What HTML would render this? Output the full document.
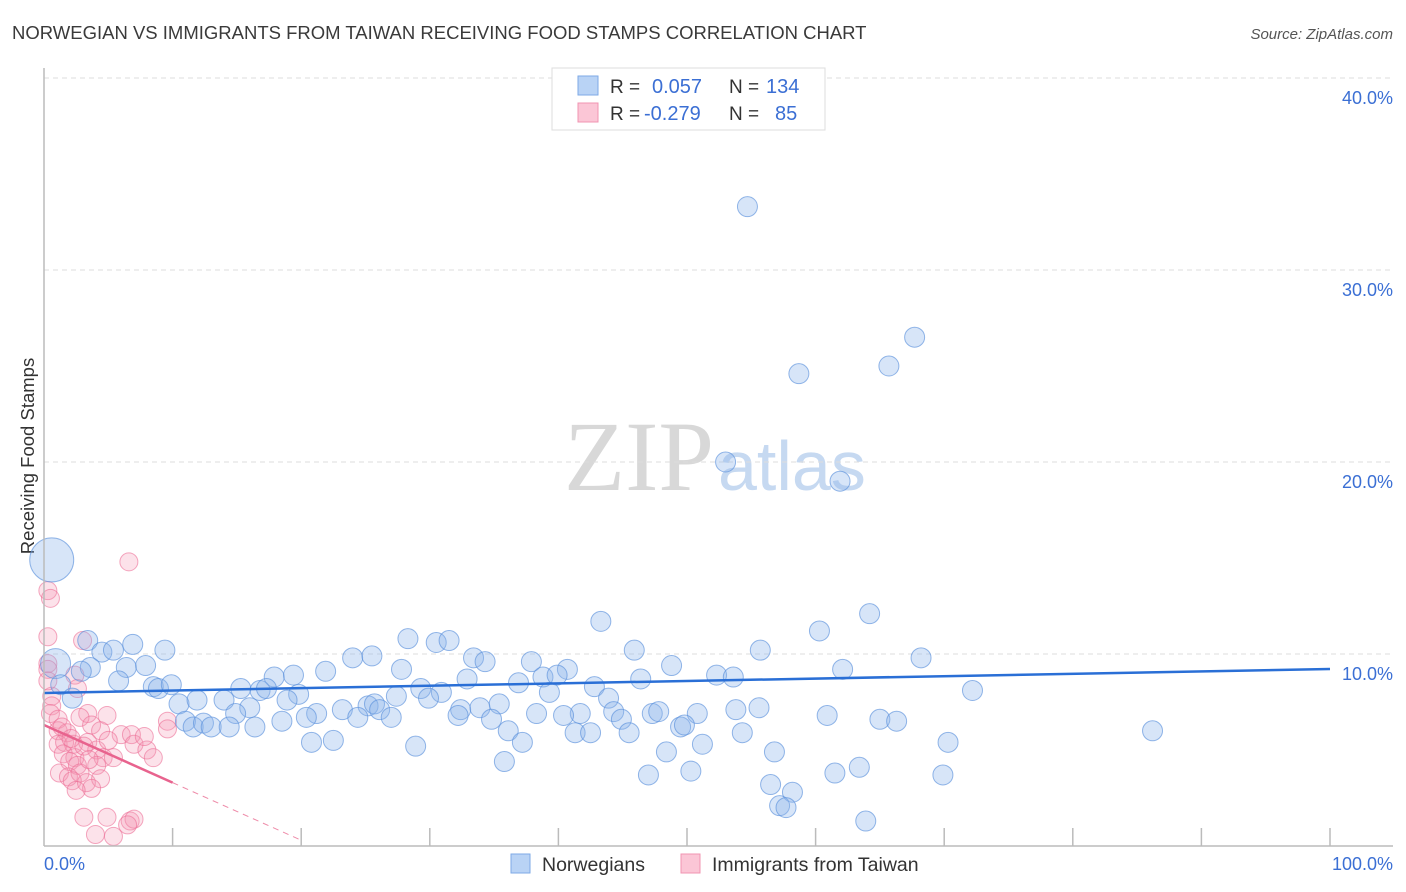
<!DOCTYPE html>
<html><head><meta charset="utf-8"><style>
body{margin:0;background:#fff;font-family:"Liberation Sans",sans-serif;}
#wrap{position:relative;width:1406px;height:892px;overflow:hidden;}
</style></head><body>
<div id="wrap">
<svg id="svg" width="1406" height="892" xmlns="http://www.w3.org/2000/svg">
<text x="12" y="39" font-size="18.5" fill="#3a3a3a">NORWEGIAN VS IMMIGRANTS FROM TAIWAN RECEIVING FOOD STAMPS CORRELATION CHART</text>
<text x="1393" y="39" font-size="15" fill="#555" font-style="italic" text-anchor="end">Source: ZipAtlas.com</text>
<text x="714" y="490" font-size="100" font-family="Liberation Serif,serif" fill="#d8d8d8" text-anchor="end">ZIP</text>
<text x="718" y="490" font-size="70" fill="#c6d9f1">atlas</text>
<text transform="translate(34,456) rotate(-90)" font-size="18.5" fill="#333" text-anchor="middle">Receiving Food Stamps</text>
<g id="grid"></g><g id="pts"></g><g id="lines"></g>
<line x1="44" y1="68" x2="44" y2="846" stroke="#bbb" stroke-width="1.5"/>
<line x1="44" y1="846" x2="1393" y2="846" stroke="#bbb" stroke-width="1.5"/>
<g id="ticks"></g>
<text x="44" y="870" font-size="18" fill="#3b6fd4">0.0%</text>
<text x="1393" y="870" font-size="18" fill="#3b6fd4" text-anchor="end">100.0%</text>
<g>
<rect x="552" y="68" width="273" height="62" fill="#fff" stroke="#ddd"/>
<rect x="578" y="76" width="20" height="19" fill="#b9d3f5" stroke="#7ea9e6"/>
<rect x="578" y="103" width="20" height="19" fill="#fbc6d6" stroke="#f094b2"/>
<text x="610" y="93" font-size="19" fill="#333">R =</text><text x="652" y="93" font-size="20" fill="#3b6fd4">0.057</text>
<text x="729" y="93" font-size="19" fill="#333">N =</text><text x="766" y="93" font-size="20" fill="#3b6fd4">134</text>
<text x="610" y="120" font-size="19" fill="#333">R =</text><text x="644" y="120" font-size="20" fill="#3b6fd4">-0.279</text>
<text x="729" y="120" font-size="19" fill="#333">N =</text><text x="775" y="120" font-size="20" fill="#3b6fd4">85</text>
</g>
<g>
<rect x="511" y="854" width="19" height="19" fill="#b9d3f5" stroke="#7ea9e6"/>
<text x="542" y="871" font-size="19.5" fill="#333">Norwegians</text>
<rect x="681" y="854" width="19" height="19" fill="#fbc6d6" stroke="#f094b2"/>
<text x="712" y="871" font-size="19.5" fill="#333">Immigrants from Taiwan</text>
</g>
</svg>
</div>
<script>
const yTicks=[10,20,30,40];
const yTickLabels=["10.0%","20.0%","30.0%","40.0%"];
const xTicks=[10,20,30,40,50,60,70,80,90,100];
const blueX=[54.7,67.7,58.7,65.7,53.0,61.9,0.6,43.3,64.2,60.3,28.3,30.5,31.5,6.9,3.4,4.5,5.4,9.4,24.0,25.5,33.4,34.3,37.9,45.9,55.7,68.2,0.9,3.6,6.4,7.9,2.9,27.8,21.9,40.7,48.8,62.1,17.9,19.4,5.8,8.5,8.9,9.9,1.3,15.3,16.8,17.3,19.8,32.9,36.9,38.8,39.9,42.8,46.4,52.3,53.6,72.2,29.3,30.9,39.3,27.4,29.9,2.2,10.5,11.9,14.0,18.9,16.0,14.9,21.2,23.2,25.2,25.7,26.1,24.4,27.0,20.4,32.4,33.9,32.2,35.4,34.8,38.3,41.7,43.9,44.3,44.9,40.4,47.3,47.8,50.8,53.8,55.6,60.9,65.0,66.3,11.0,11.6,12.4,13.0,14.4,16.4,18.5,49.5,49.8,36.1,41.3,42.5,45.5,54.3,86.2,20.8,22.5,37.2,51.2,70.3,28.9,48.4,56.8,35.8,47.0,50.3,61.5,63.4,69.9,56.5,58.2,57.2,57.7,63.9];
const blueY=[33.3,26.5,24.6,25.0,20.0,19.0,14.9,11.7,12.1,11.2,10.8,10.6,10.7,10.5,10.7,10.1,10.2,10.2,9.8,9.9,9.8,9.6,9.6,10.2,10.2,9.8,9.5,9.3,9.3,9.4,9.1,9.2,9.1,9.2,9.4,9.2,8.8,8.9,8.6,8.3,8.2,8.4,8.4,8.2,8.1,8.2,7.9,8.7,8.5,8.8,8.9,8.3,8.7,8.9,8.8,8.1,8.2,8.0,8.0,7.8,7.7,7.7,7.4,7.6,7.6,7.6,7.2,6.9,6.9,7.1,7.3,7.4,7.1,6.7,6.7,6.7,7.1,7.2,6.8,7.4,6.6,6.9,6.9,7.7,7.0,6.6,6.8,6.9,7.0,6.9,7.1,7.2,6.8,6.6,6.5,6.5,6.2,6.4,6.2,6.2,6.2,6.5,6.2,6.3,6.0,5.9,5.9,5.9,5.9,6.0,5.4,5.5,5.4,5.3,5.4,5.2,4.9,4.9,4.4,3.7,3.9,3.8,4.1,3.7,3.2,2.8,2.1,2.0,1.3];
const blueBig={6:22,26:15};
const pinkX=[6.6,0.3,0.5,0.3,3.0,0.3,0.3,2.4,2.6,0.6,0.6,0.5,1.1,3.4,2.8,4.9,3.7,1.1,1.8,4.4,6.0,6.8,9.6,9.6,1.1,1.6,2.3,3.4,4.1,1.5,2.4,2.0,2.6,4.6,5.4,7.0,8.0,8.5,1.2,1.9,2.8,4.1,2.2,3.3,4.4,3.7,3.1,4.9,6.7,7.0,4.0,5.4,6.5,1.4,2.1,3.1,3.5,2.5,5.0,7.8,0.3];
const pinkY=[14.8,13.3,12.9,10.9,10.7,9.5,9.2,8.9,8.2,7.8,7.3,6.9,6.6,6.9,6.7,6.8,6.3,6.0,5.9,6.0,5.8,5.8,6.5,6.1,5.3,5.4,5.3,5.4,5.0,4.8,4.6,4.4,4.2,4.6,4.6,5.3,5.0,4.6,3.8,3.6,3.8,4.2,3.4,3.3,3.5,3.0,1.5,1.5,1.3,1.4,0.6,0.5,1.1,6.2,5.6,5.2,4.5,2.9,5.5,5.7,8.6];
const blueTrend=[7.97,9.22];
const pinkTrend=[6.3,-0.3];
const NS="http://www.w3.org/2000/svg";
const X=v=>44+v*12.86, Y=v=>846-v*19.2;
function mk(t,a,p){const e=document.createElementNS(NS,t);for(const k in a)e.setAttribute(k,a[k]);p.appendChild(e);return e;}
const grid=document.getElementById('grid'),ticks=document.getElementById('ticks'),pts=document.getElementById('pts'),lines=document.getElementById('lines');
yTicks.forEach((t,i)=>{
 const l=mk('line',{x1:44,x2:1393,y1:Y(t),y2:Y(t),stroke:'#ddd','stroke-dasharray':'5,4'},grid);
 
 
 const tx=mk('text',{x:1393,y:Y(t)+26,'font-size':18,fill:'#3b6fd4','text-anchor':'end'},grid);
 tx.textContent=yTickLabels[i];
 
 
});
xTicks.forEach(t=>{
 const l=mk('line',{x1:X(t),x2:X(t),y1:828,y2:846,stroke:'#bbb','stroke-width':1.5},ticks);
 
 
});
pinkX.forEach((x,i)=>{
 const c=mk('circle',{cx:X(x),cy:Y(pinkY[i]),r:9,fill:'rgba(244,150,180,0.28)',stroke:'rgba(236,110,150,0.6)','stroke-width':1},pts);
 
 
});
blueX.forEach((x,i)=>{
 const c=mk('circle',{cx:X(x),cy:Y(blueY[i]),r:blueBig[i]||10,fill:'rgba(140,180,235,0.35)',stroke:'rgba(90,145,220,0.65)','stroke-width':1},pts);
 
 
});
const bl=mk('line',{x1:X(0),y1:Y(blueTrend[0]),x2:X(100),y2:Y(blueTrend[1]),stroke:'#2a6fd6','stroke-width':2.5},lines);


const py=x=>pinkTrend[0]+pinkTrend[1]*x;
const pl=mk('line',{x1:X(0),y1:Y(py(0)),x2:X(10),y2:Y(py(10)),stroke:'#e8638e','stroke-width':2.5},lines);


const pd=mk('line',{x1:X(10),y1:Y(py(10)),x2:X(20),y2:Y(py(20)),stroke:'#ee8aa8','stroke-width':1,'stroke-dasharray':'6,5'},lines);


</script>
</body></html>
